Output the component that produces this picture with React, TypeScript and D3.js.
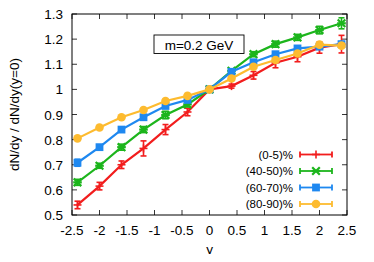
import React from 'react';
import { scaleLinear, line } from 'd3';

const rapidity = [-2.4, -2.0, -1.6, -1.2, -0.8, -0.4, 0, 0.4, 0.8, 1.2, 1.6, 2.0, 2.4];

const central05 = [0.54, 0.615, 0.70, 0.765, 0.84, 0.91, 1.0, 1.013, 1.056, 1.106, 1.13, 1.166, 1.18];
const central05Err = [0.015, 0.015, 0.015, 0.03, 0.02, 0.015, 0, 0.008, 0.015, 0.02, 0.02, 0.022, 0.035];

const cent4050 = [0.63, 0.696, 0.77, 0.84, 0.898, 0.94, 1.0, 1.074, 1.14, 1.18, 1.207, 1.236, 1.263];
const cent4050Err = [0.012, 0.01, 0.012, 0.012, 0.015, 0.01, 0, 0.008, 0.01, 0.012, 0.012, 0.015, 0.022];

const cent6070 = [0.708, 0.77, 0.84, 0.889, 0.934, 0.958, 1.0, 1.07, 1.108, 1.14, 1.163, 1.17, 1.18];
const cent6070Err = [0.014, 0.008, 0.008, 0.008, 0.008, 0.005, 0, 0.005, 0.008, 0.008, 0.008, 0.01, 0.01];

const cent8090 = [0.805, 0.848, 0.889, 0.918, 0.954, 0.974, 1.0, 1.043, 1.09, 1.117, 1.143, 1.178, 1.174];
const cent8090Err = [0.005, 0.005, 0.005, 0.005, 0.005, 0.004, 0, 0.005, 0.005, 0.006, 0.006, 0.006, 0.008];

const xTicks = [-2.5, -2, -1.5, -1, -0.5, 0, 0.5, 1, 1.5, 2, 2.5];
const yTicks = [0.5, 0.6, 0.7, 0.8, 0.9, 1, 1.1, 1.2, 1.3];

const series = [
  { label: '(0-5)%', values: central05, errs: central05Err, color: '#f21d1d', marker: 'plus' },
  { label: '(40-50)%', values: cent4050, errs: cent4050Err, color: '#1cb51c', marker: 'star' },
  { label: '(60-70)%', values: cent6070, errs: cent6070Err, color: '#1e88f0', marker: 'square' },
  { label: '(80-90)%', values: cent8090, errs: cent8090Err, color: '#fdbb2f', marker: 'circle' },
];

const font = '"Liberation Sans", Arial, sans-serif';

function Marker({ kind, cx, cy, color }) {
  if (kind === 'circle') return <circle cx={cx} cy={cy} r={4.3} fill={color} />;
  if (kind === 'square') return <rect x={cx - 3.9} y={cy - 3.9} width={7.8} height={7.8} fill={color} />;
  if (kind === 'star') {
    const s = 3.8;
    return (
      <g stroke={color} strokeWidth={2.2}>
        <line x1={cx - s} y1={cy - s} x2={cx + s} y2={cy + s} />
        <line x1={cx - s} y1={cy + s} x2={cx + s} y2={cy - s} />
        <line x1={cx - s - 0.5} y1={cy} x2={cx + s + 0.5} y2={cy} />
      </g>
    );
  }
  return (
    <g stroke={color} strokeWidth={1.6}>
      <line x1={cx - 4} y1={cy} x2={cx + 4} y2={cy} />
      <line x1={cx} y1={cy - 4} x2={cx} y2={cy + 4} />
    </g>
  );
}

export default function App() {
  const W = 374;
  const H = 262;
  const left = 72, right = 347, top = 14, bottom = 215;

  const x = scaleLinear().domain([-2.5, 2.5]).range([left, right]);
  const y = scaleLinear().domain([0.5, 1.3]).range([bottom, top]);

  const path = line<number>()
    .x((d, i) => x(rapidity[i]))
    .y(d => y(d));

  const legendX = 293;
  const legendY0 = 154.5;
  const legendDy = 16.5;

  return (
    <div style={{ margin: -8 }}>
      <svg width={W} height={H} style={{ display: 'block', fontFamily: font }}>
        <rect width={W} height={H} fill="#fff" />

        {/* ticks, inward on all sides */}
        {xTicks.map(t => (
          <g key={'xt' + t} stroke="#000" strokeWidth={0.8}>
            <line x1={x(t)} x2={x(t)} y1={bottom} y2={bottom - 5} />
            <line x1={x(t)} x2={x(t)} y1={top} y2={top + 5} />
          </g>
        ))}
        {yTicks.map(t => (
          <g key={'yt' + t} stroke="#000" strokeWidth={0.8}>
            <line x1={left} x2={left + 5} y1={y(t)} y2={y(t)} />
            <line x1={right} x2={right - 5} y1={y(t)} y2={y(t)} />
          </g>
        ))}

        {xTicks.map(t => (
          <text key={'xl' + t} x={x(t)} y={235} textAnchor="middle" fontSize={13.5} fill="#000">
            {t}
          </text>
        ))}
        {yTicks.map(t => (
          <text key={'yl' + t} x={63} y={y(t) + 5} textAnchor="end" fontSize={13.5} fill="#000">
            {t}
          </text>
        ))}

        <text x={x(0)} y={254} textAnchor="middle" fontSize={13.5}>y</text>
        <text
          transform={`translate(19,${(top + bottom) / 2}) rotate(-90)`}
          textAnchor="middle"
          fontSize={13.5}
        >
          dN/dy / dN/dy(y=0)
        </text>

        {/* label box */}
        <rect x={154} y={35} width={90} height={18.5} fill="#fff" stroke="#000" strokeWidth={0.9} />
        <text x={199} y={49.5} textAnchor="middle" fontSize={13.5}>m=0.2 GeV</text>

        {series.map(s => (
          <g key={s.label}>
            <path d={path(s.values) || ''} fill="none" stroke={s.color} strokeWidth={2.2} />
            {s.values.map((v, i) =>
              s.errs[i] > 0 ? (
                <g key={i} stroke={s.color} strokeWidth={1.6}>
                  <line x1={x(rapidity[i])} x2={x(rapidity[i])} y1={y(v - s.errs[i])} y2={y(v + s.errs[i])} />
                  <line x1={x(rapidity[i]) - 3} x2={x(rapidity[i]) + 3} y1={y(v - s.errs[i])} y2={y(v - s.errs[i])} />
                  <line x1={x(rapidity[i]) - 3} x2={x(rapidity[i]) + 3} y1={y(v + s.errs[i])} y2={y(v + s.errs[i])} />
                </g>
              ) : null
            )}
            {s.values.map((v, i) => (
              <Marker key={'m' + i} kind={s.marker} cx={x(rapidity[i])} cy={y(v)} color={s.color} />
            ))}
          </g>
        ))}

        {/* legend */}
        {series.map((s, i) => {
          const ly = legendY0 + i * legendDy;
          return (
            <g key={'lg' + s.label}>
              <text x={legendX} y={ly + 4} textAnchor="end" fontSize={11.5}>{s.label}</text>
              <g stroke={s.color} strokeWidth={1.8}>
                <line x1={300} x2={332} y1={ly} y2={ly} />
                <line x1={300} x2={300} y1={ly - 3} y2={ly + 3} />
                <line x1={332} x2={332} y1={ly - 3} y2={ly + 3} />
              </g>
              <Marker kind={s.marker} cx={316} cy={ly} color={s.color} />
            </g>
          );
        })}

        <rect x={left} y={top} width={right - left} height={bottom - top} fill="none" stroke="#000" strokeWidth={1} />
      </svg>
    </div>
  );
}
